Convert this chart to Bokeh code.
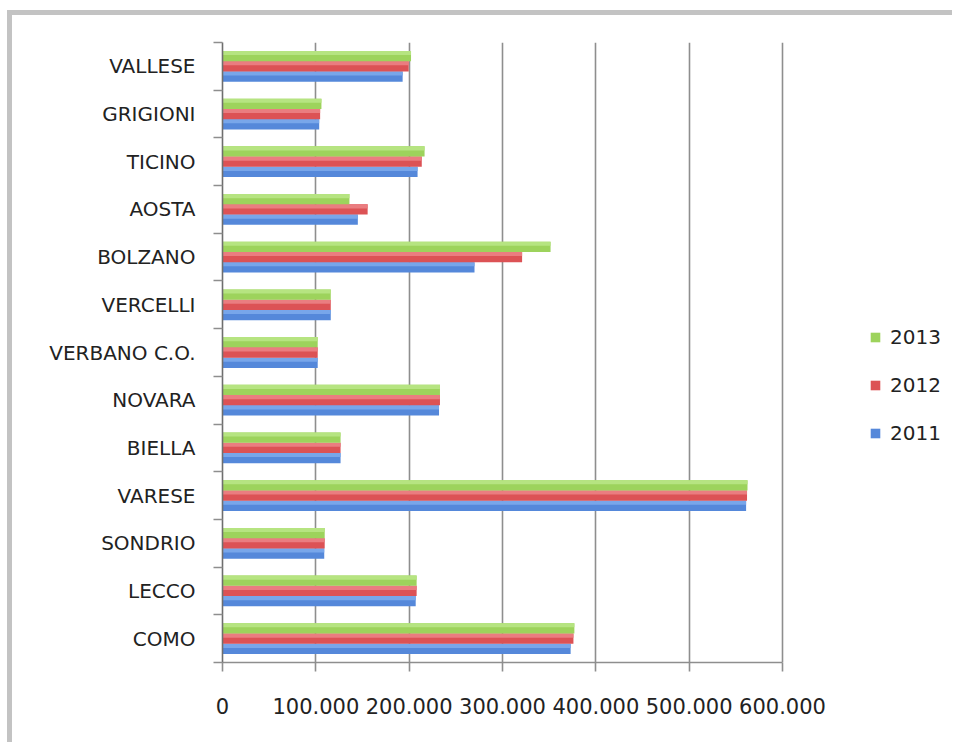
from bokeh.plotting import figure
from bokeh.models import FixedTicker, ColumnDataSource, Legend, LegendItem, Range1d
from bokeh.transform import dodge
from bokeh.embed import file_html
from bokeh.resources import INLINE

# ---- data (bottom to top) ----
categories = ["COMO", "LECCO", "SONDRIO", "VARESE", "BIELLA", "NOVARA",
              "VERBANO C.O.", "VERCELLI", "BOLZANO", "AOSTA", "TICINO",
              "GRIGIONI", "VALLESE"]
v2011 = [373000, 207000, 109000, 561000, 126500, 232000, 102000, 116000,
         270000, 145000, 209000, 103600, 193000]
v2012 = [376000, 208000, 109500, 562000, 126500, 233000, 102000, 116000,
         321000, 155500, 213500, 104600, 199500]
v2013 = [377000, 208000, 109500, 562500, 126500, 233000, 102000, 116000,
         351500, 136000, 216500, 106000, 202000]
x_ticks = [0, 100000, 200000, 300000, 400000, 500000, 600000]
x_tick_labels = ["0", "100.000", "200.000", "300.000", "400.000", "500.000", "600.000"]

pos = [i + 0.5 for i in range(len(categories))]
src = ColumnDataSource(dict(y=pos, cat=categories, v2011=v2011, v2012=v2012, v2013=v2013))

GRID = "#8e8e8e"
FONT = "DejaVu Sans"
TXT = "#222222"

AXIS_W = 560          # pixel width of the 0..600.000 value axis
FRAME_W = 720         # frame extends further right to host the legend
x_end = x_ticks[-1] * FRAME_W / AXIS_W

p = figure(frame_width=FRAME_W, frame_height=620,
           x_range=Range1d(0, x_end), y_range=Range1d(0, len(categories)),
           output_backend="svg", toolbar_location=None,
           min_border_left=210, min_border_right=10, min_border_top=27, min_border_bottom=80)
# grey frame around the chart box (left and top edges)
p.styles = {"margin-left": "7px", "margin-top": "10px",
            "border-left": "5px solid #c3c3c3", "border-top": "5px solid #c3c3c3"}
p.outline_line_color = None
p.background_fill_color = "white"
p.border_fill_color = "white"

bh = 0.215
series = [("v2011", -bh, "#5588da", "#78a6ea"),
          ("v2012", 0.0, "#dc5255", "#ea7d80"),
          ("v2013", bh, "#9dd35c", "#b6e481")]
main = {}
for col, off, base, light in series:
    r = p.hbar(y=dodge("y", off, range=p.y_range), right=col, left=0, height=bh,
               source=src, fill_color=base, line_color=None)
    p.hbar(y=dodge("y", off + bh * 0.3, range=p.y_range), right=col, left=0, height=bh * 0.4,
           source=src, fill_color=light, line_color=None)
    main[col] = r

# grid
p.xgrid.ticker = FixedTicker(ticks=x_ticks, minor_ticks=[])
p.xgrid.grid_line_color = GRID
p.xgrid.grid_line_width = 1.6
p.ygrid.grid_line_color = None

# x axis
xa = p.xaxis[0]
xa.bounds = (x_ticks[0], x_ticks[-1])
xa.ticker = FixedTicker(ticks=x_ticks, minor_ticks=[])
xa.major_label_overrides = {t: l for t, l in zip(x_ticks, x_tick_labels)}
xa.axis_line_color = GRID
xa.axis_line_width = 1.6
xa.major_tick_line_color = GRID
xa.major_tick_line_width = 1.6
xa.major_tick_out = 9
xa.major_tick_in = 0
xa.minor_tick_line_color = None
xa.major_label_standoff = 26
xa.major_label_text_font = FONT
xa.major_label_text_font_size = "21px"
xa.major_label_text_color = TXT

# y axis
ya = p.yaxis[0]
ya.ticker = FixedTicker(ticks=pos, minor_ticks=list(range(len(categories) + 1)))
ya.major_label_overrides = {t: c for t, c in zip(pos, categories)}
ya.axis_line_color = "#6e6e6e"
ya.axis_line_width = 1.6
ya.major_tick_line_color = None
ya.major_tick_out = 0
ya.major_tick_in = 0
ya.minor_tick_line_color = GRID
ya.minor_tick_line_width = 1.6
ya.minor_tick_out = 9
ya.minor_tick_in = 0
ya.major_label_standoff = 18
ya.major_label_text_font = FONT
ya.major_label_text_font_size = "20px"
ya.major_label_text_color = TXT

legend = Legend(items=[LegendItem(label="2013", renderers=[main["v2013"]]),
                       LegendItem(label="2012", renderers=[main["v2012"]]),
                       LegendItem(label="2011", renderers=[main["v2011"]])],
                location=(647, 217), glyph_width=12, glyph_height=12,
                label_text_font=FONT, label_text_font_size="20px", label_text_color=TXT,
                spacing=24, padding=0, margin=0, label_standoff=9,
                border_line_color=None, background_fill_alpha=0)
p.add_layout(legend)

open("out.html", "w").write(file_html(p, INLINE))
